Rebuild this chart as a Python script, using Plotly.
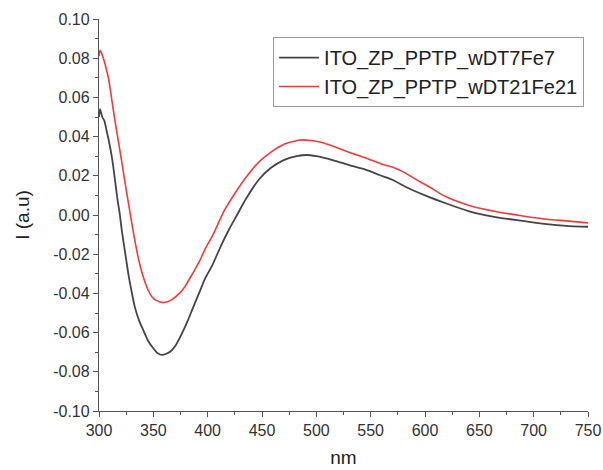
import plotly.graph_objects as go

# Series 1: ITO_ZP_PPTP_wDT7Fe7 (black)
nm_black = [300, 301, 303, 305, 307, 309, 312, 314, 317, 319, 321, 324, 327, 330, 333, 337,
            341, 345, 350, 354, 358, 362, 366, 370, 374, 378, 382, 386, 392, 398, 404, 412,
            420, 427, 435, 447, 458, 470, 482, 491, 500, 515, 530, 546, 558, 570, 582, 600,
            619, 640, 666, 690, 712, 730, 750]
i_black = [0.050, 0.054, 0.050, 0.048, 0.043, 0.038, 0.029, 0.021, 0.008, 0.001, -0.008,
           -0.019, -0.030, -0.039, -0.047, -0.054, -0.059, -0.064, -0.068, -0.0705, -0.0714,
           -0.0708, -0.0695, -0.067, -0.063, -0.0585, -0.0535, -0.048, -0.040, -0.032, -0.026,
           -0.016, -0.007, 0.000, 0.008, 0.018, 0.024, 0.028, 0.030, 0.0306, 0.030, 0.028,
           0.0255, 0.023, 0.0204, 0.018, 0.0144, 0.010, 0.006, 0.002, -0.0012, -0.003,
           -0.0046, -0.0055, -0.006]

# Series 2: ITO_ZP_PPTP_wDT21Fe21 (red)
nm_red = [300, 301, 302, 304, 306, 309, 312, 315, 318, 321, 325, 328, 331, 334, 337, 341,
          345, 349, 353, 359, 363, 367, 374, 379, 386, 393, 398, 405, 415, 425, 435, 447,
          458, 470, 485, 495, 505, 516, 530, 546, 560, 572, 580, 590, 605, 619, 640, 666,
          690, 712, 730, 750]
i_red = [0.081, 0.084, 0.083, 0.080, 0.076, 0.069, 0.058, 0.047, 0.037, 0.027, 0.013, 0.003,
         -0.007, -0.016, -0.024, -0.032, -0.038, -0.042, -0.0437, -0.0447, -0.0443, -0.0432,
         -0.040, -0.0366, -0.030, -0.023, -0.017, -0.010, 0.002, 0.011, 0.019, 0.027, 0.032,
         0.036, 0.0383, 0.038, 0.037, 0.035, 0.032, 0.029, 0.026, 0.024, 0.022, 0.0187,
         0.014, 0.0094, 0.005, 0.0017, -0.0005, -0.0022, -0.003, -0.004]

x_ticks = [300, 350, 400, 450, 500, 550, 600, 650, 700, 750]
y_ticks = [-0.10, -0.08, -0.06, -0.04, -0.02, 0.00, 0.02, 0.04, 0.06, 0.08, 0.10]
y_ticklabels = [("-" if v < 0 else "") + f"{abs(v):.2f}" for v in y_ticks]

font_family = "Liberation Sans, Arial, sans-serif"

fig = go.Figure()
fig.add_trace(go.Scatter(x=nm_black, y=i_black, mode="lines", name="ITO_ZP_PPTP_wDT7Fe7",
                         line=dict(color="#454545", width=1.8, shape="spline", smoothing=0.6)))
fig.add_trace(go.Scatter(x=nm_red, y=i_red, mode="lines", name="ITO_ZP_PPTP_wDT21Fe21",
                         line=dict(color="#f03c3c", width=1.6, shape="spline", smoothing=0.6)))

axis_common = dict(showgrid=False, zeroline=False, showline=True, linecolor="#555555",
                   linewidth=1.3, ticks="outside", ticklen=5, tickwidth=1.2, tickcolor="#555555",
                   automargin=False,
                   tickfont=dict(family=font_family, size=16, color="#333333"))

fig.update_xaxes(range=[300, 750], tickvals=x_ticks, ticktext=[str(v) for v in x_ticks],
                 minor=dict(ticks="outside", ticklen=3, tickcolor="#555555", dtick=25, tick0=300),
                 title=dict(text="nm", font=dict(family=font_family, size=19, color="#222222"),
                            standoff=12),
                 **axis_common)
fig.update_yaxes(range=[-0.10, 0.10], tickvals=y_ticks, ticktext=y_ticklabels,
                 minor=dict(ticks="outside", ticklen=3, tickcolor="#555555", dtick=0.01, tick0=0),
                 title=dict(text="I (a.u)", font=dict(family=font_family, size=19, color="#222222"),
                            standoff=18),
                 **axis_common)

fig.update_layout(
    width=603, height=470,
    margin=dict(l=99, r=15, t=19, b=59),
    plot_bgcolor="white", paper_bgcolor="white",
    showlegend=True,
    legend=dict(x=0.356, y=0.954, xanchor="left", yanchor="top",
                bordercolor="#999999", borderwidth=1, bgcolor="white",
                font=dict(family=font_family, size=20, color="#222222"),
                tracegroupgap=0, itemwidth=40),
)

fig.write_html("out.html")
